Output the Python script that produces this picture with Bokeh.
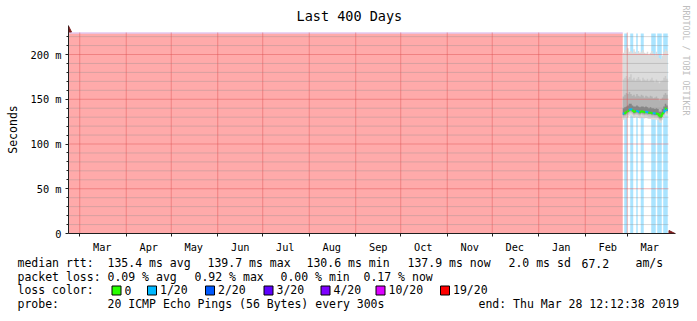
import pandas as pd
from bokeh.plotting import figure
from bokeh.layouts import column
from bokeh.models import FixedTicker, Arrow, NormalHead, Title
from bokeh.core.properties import value
from bokeh.embed import file_html
from bokeh.resources import INLINE

# ---------------- data ----------------
chart_title = "Last 400 Days"
credit_text = "RRDTOOL / TOBI OETIKER"
y_axis_title = "Seconds"
end_stamp = "2019-03-28 12:12:38"
span_days = 400

month_labels = ["Mar", "Apr", "May", "Jun", "Jul", "Aug", "Sep", "Oct", "Nov", "Dec", "Jan", "Feb", "Mar"]
month_starts = ["2018-03-01", "2018-04-01", "2018-05-01", "2018-06-01", "2018-07-01", "2018-08-01",
                "2018-09-01", "2018-10-01", "2018-11-01", "2018-12-01", "2019-01-01", "2019-02-01",
                "2019-03-01"]

y_ticks = [0, 50, 100, 150, 200]
y_tick_labels = ["0", "50 m", "100 m", "150 m", "200 m"]
y_minor_ticks = [10, 20, 30, 40, 60, 70, 80, 90, 110, 120, 130, 140, 160, 170, 180, 190, 210, 220]
y_graph_max = 223.5   # ms, top of graph area
y_canvas_max = 224.6  # ms, top row of graph canvas

no_data_until = "2019-02-26"
first_sample_day = "2019-02-26"

# per-day values (ms), 2019-02-26 .. 2019-03-27
rtt_median = [134, 134.5, 136, 137, 138.5, 139, 137.5, 136, 136.5, 137, 136, 135.5, 136.5, 136, 135.5,
              136, 135.5, 135, 135, 134.5, 134.5, 134, 134, 133.5, 131, 130.6, 134, 136, 139.7, 137.9]
rtt_min = [127, 127.5, 129, 130, 131.5, 132, 130.5, 129, 129.5, 130, 129, 128.5, 129.5, 129, 128.5,
           129, 128.5, 128, 128, 127.5, 127.5, 127, 127, 126.5, 124, 123.5, 127, 129, 132.5, 131]
rtt_p10 = [129.5, 130, 131.5, 132.5, 134, 134.5, 133, 131.5, 132, 132.5, 131.5, 131, 132, 131.5, 131,
           131.5, 131, 130.5, 130.5, 130, 130, 129.5, 129.5, 129, 126.5, 126, 129.5, 131.5, 135, 133.5]
rtt_p25 = [131, 131.5, 133, 134, 135.5, 136, 134.5, 133, 133.5, 134, 133, 132.5, 133.5, 133, 132.5,
           133, 132.5, 132, 132, 131.5, 131.5, 131, 131, 130.5, 128, 127.5, 131, 133, 136.5, 135]
rtt_p40 = [132.5, 133, 134.5, 135.5, 137, 137.5, 136, 134.5, 135, 135.5, 134.5, 134, 135, 134.5, 134,
           134.5, 134, 133.5, 133.5, 133, 133, 132.5, 132.5, 132, 129.5, 129, 132.5, 134.5, 138, 136.5]
rtt_p65 = [140, 141, 142, 143, 145, 145, 143, 142, 142, 143, 142, 141, 142, 142, 141,
           142, 141, 140, 141, 140, 140, 139, 140, 139, 136, 136, 139, 142, 145, 143]
rtt_p80 = [153, 155, 157, 156, 158, 156, 154, 155, 153, 156, 154, 153, 155, 154, 152,
           154, 153, 152, 154, 153, 151, 152, 153, 151, 149, 150, 152, 155, 157, 155]
rtt_p90 = [172, 174, 176, 173, 175, 178, 172, 174, 171, 173, 175, 172, 170, 174, 172,
           171, 173, 170, 172, 174, 171, 169, 172, 170, 168, 170, 171, 174, 176, 173]
rtt_max = [202, 205, 208, 207, 203, 204, 202, 206, 203, 201, 204, 202, 203, 205, 202,
           201, 203, 200, 202, 204, 201, 199, 203, 200, 196, 195, 199, 203, 206, 204]
loss_count = [0, 1, 1, 0, 0, 1, 1, 0, 0, 1, 0, 0, 1, 1, 0, 0, 0, 0, 0, 1, 1, 1, 0, 1, 1, 1, 0, 1, 1, 1]
median_loss = [1, 0, 0, 0, 1, 1, 0, 0, 0, 1, 1, 0, 0, 0, 0, 1, 1, 0, 0, 0, 1, 1, 0, 0, 0, 0, 0, 1, 0, 1]

rtt_stat_names = ["avg", "max", "min", "now"]
rtt_stat_values = [135.4, 139.7, 130.6, 137.9]
rtt_sd = 2.0
rtt_am_s = 67.2
loss_stat_values = [0.09, 0.92, 0.00, 0.17]
loss_legend_labels = ["0", "1/20", "2/20", "3/20", "4/20", "10/20", "19/20"]
loss_legend_colors = ["#26ff00", "#00b8ff", "#0059ff", "#5e00ff", "#7e00ff", "#dd00ff", "#ff0000"]
probe_text = "20 ICMP Echo Pings (56 Bytes) every 300s"
end_text = "end: Thu Mar 28 12:12:38 2019"

# ---------------- helpers ----------------
end_time = pd.Timestamp(end_stamp)
start_time = end_time - pd.Timedelta(days=span_days)


def off(d):
    return round((pd.Timestamp(d) - start_time).total_seconds() / 86400.0, 4)


MONO = "DejaVu Sans Mono"
W = 697
MAIN_H = 255
LEG_H = 321 - MAIN_H
F_LEFT, F_RIGHT = 68, 675          # plot frame (includes room for the axis arrows)
F_TOP, F_BOTTOM = 25, 233
PX_PER_DAY = 1.5
PX_PER_MS = 201 / y_canvas_max
x_end = (F_RIGHT - F_LEFT) / PX_PER_DAY
y_end = (F_BOTTOM - F_TOP) / PX_PER_MS

day_starts = [off(d) for d in pd.date_range(first_sample_day, periods=len(rtt_median), freq="D")]
day_ends = [s + 1 for s in day_starts]


def step_xy(vals):
    xs, ys = [], []
    for s, e, v in zip(day_starts, day_ends, vals):
        xs += [s, e]
        ys += [v, v]
    return xs, ys


# ---------------- main figure ----------------
p = figure(width=W, height=MAIN_H, output_backend="svg", toolbar_location=None,
           x_range=(0, x_end), y_range=(0, y_end),
           min_border_left=F_LEFT, min_border_right=W - F_RIGHT,
           min_border_top=F_TOP, min_border_bottom=MAIN_H - F_BOTTOM)
p.outline_line_color = None
p.background_fill_color = "white"
p.border_fill_color = "white"
p.xgrid.visible = False
p.ygrid.visible = False

# unknown / full loss background
p.quad(left=0, right=off(no_data_until), bottom=0, top=y_graph_max,
       fill_color="#FFAAAA", line_color=None)
p.quad(left=0, right=off(no_data_until), bottom=y_graph_max, top=y_canvas_max,
       fill_color="#D5AEEA", line_color=None)

# loss stripes
lx, ly = step_xy([y_graph_max if c > 0 else 0 for c in loss_count])
p.varea(x=lx, y1=[0] * len(lx), y2=ly, fill_color="#AAE4FF")

# smoke layers
layers = [(rtt_min, rtt_max, "#DCDCDC"), (rtt_p10, rtt_p90, "#CACACA"),
          (rtt_p25, rtt_p80, "#B2B2B2"), (rtt_p40, rtt_p65, "#858585")]
for lo, hi, col in layers:
    sx, slo = step_xy(lo)
    _, shi = step_xy(hi)
    p.varea(x=sx, y1=slo, y2=shi, fill_color=col)

# median line, coloured by loss
mxs, mys, mcol = [], [], []
for i, (s, e, v) in enumerate(zip(day_starts, day_ends, rtt_median)):
    nxt = rtt_median[i + 1] if i + 1 < len(rtt_median) else v
    mxs.append([s, e, e])
    mys.append([v, v, nxt])
    mcol.append(loss_legend_colors[1] if median_loss[i] else loss_legend_colors[0])
p.multi_line(xs=mxs, ys=mys, line_color=mcol, line_width=2)

# grid lines (drawn over the graph, limited to the graph area)
start_pos = [off(m) for m in month_starts]
p.segment(x0=0, x1=span_days, y0=y_minor_ticks, y1=y_minor_ticks,
          line_color="#8F8F8F", line_alpha=0.35, line_width=1)
p.segment(x0=0, x1=span_days, y0=y_ticks[1:], y1=y_ticks[1:],
          line_color="#DE4F4F", line_alpha=0.45, line_width=1)
p.segment(x0=start_pos, x1=start_pos, y0=0, y1=y_canvas_max,
          line_color="#DE4F4F", line_alpha=0.45, line_width=1)

# ---------------- axes ----------------
label_pos = [round(off(m) + 15, 4) for m in month_starts]
p.xaxis.ticker = FixedTicker(ticks=label_pos, minor_ticks=start_pos)
p.xaxis.major_label_overrides = {pos: name for pos, name in zip(label_pos, month_labels)}
p.xaxis.major_tick_out = 0
p.xaxis.major_tick_in = 0
p.xaxis.minor_tick_out = 3
p.xaxis.minor_tick_in = 0
p.xaxis.major_label_standoff = 4

p.yaxis.ticker = FixedTicker(ticks=y_ticks, minor_ticks=y_minor_ticks)
p.yaxis.major_label_overrides = {t: lab for t, lab in zip(y_ticks, y_tick_labels)}
p.yaxis.major_tick_out = 3
p.yaxis.major_tick_in = 0
p.yaxis.minor_tick_out = 2
p.yaxis.minor_tick_in = 0
p.yaxis.major_label_standoff = 4
p.yaxis.axis_label = y_axis_title
p.yaxis.axis_label_text_font = MONO
p.yaxis.axis_label_text_font_size = "11.5px"
p.yaxis.axis_label_text_font_style = "normal"
p.yaxis.axis_label_text_color = "black"
p.yaxis.axis_label_standoff = 8

for ax in (p.xaxis[0], p.yaxis[0]):
    ax.axis_line_color = "#1F1F1F"
    ax.major_tick_line_color = "#1F1F1F"
    ax.minor_tick_line_color = "#1F1F1F"
    ax.major_label_text_font = MONO
    ax.major_label_text_font_size = "10.3px"
    ax.major_label_text_color = "black"

# axis arrows
arrow_col = "#7F1F1F"
p.add_layout(Arrow(end=NormalHead(size=6, fill_color=arrow_col, line_color=arrow_col),
                   x_start=0, y_start=y_canvas_max, x_end=0, y_end=(F_BOTTOM - 25.5) / PX_PER_MS,
                   line_color="#1F1F1F", line_width=1))
p.add_layout(Arrow(end=NormalHead(size=6, fill_color=arrow_col, line_color=arrow_col),
                   x_start=span_days, y_start=0, x_end=(674.5 - F_LEFT) / PX_PER_DAY, y_end=0,
                   line_color="#1F1F1F", line_width=1))

# title and credit
p.title = Title(text=chart_title, align="left", offset=296 - F_LEFT, standoff=3,
                text_font=MONO, text_font_size="13.5px", text_font_style="normal",
                text_color="black")
p.add_layout(Title(text=credit_text, align="left", offset=-20, standoff=8,
                   vertical_align="middle", text_font=MONO, text_font_size="8.3px",
                   text_font_style="normal", text_color="#BEBEBE"), "right")

# ---------------- legend strip ----------------
leg = figure(width=W, height=LEG_H, output_backend="svg", toolbar_location=None,
             x_range=(0, W), y_range=(321, MAIN_H), x_axis_type=None, y_axis_type=None,
             min_border_left=0, min_border_right=0, min_border_top=0, min_border_bottom=0)
leg.outline_line_color = None
leg.background_fill_color = "white"
leg.border_fill_color = "white"
leg.grid.visible = False
for fig in (p, leg):
    try:
        fig.frame_align = False
    except Exception:
        pass

items_t, items_x, items_y = [], [], []
ROW_Y = [262.9, 276.4, 289.9, 303.4]   # vertical centres of the four legend rows


def add_item(txt, px, row):
    items_t.append(txt)
    items_x.append(px)
    items_y.append(ROW_Y[row])


add_item("median rtt:", 17, 0)
for v, n, x in zip(rtt_stat_values, rtt_stat_names, [107, 207, 306, 407]):
    add_item(f"{v:.1f} ms {n}", x, 0)
add_item(f"{rtt_sd:.1f} ms sd", 508, 0)
add_item(f"{rtt_am_s:.1f}", 581, 0)
add_item("am/s", 635, 0)

add_item("packet loss:", 17, 1)
for v, n, x in zip(loss_stat_values, rtt_stat_names, [107, 194, 280, 363]):
    add_item(f"{v:.2f} % {n}", x, 1)

add_item("loss color:", 17, 2)
loss_text_x = [124, 159.5, 217.5, 276, 333, 388, 452.5]
for lab, x in zip(loss_legend_labels, loss_text_x):
    add_item(lab, x, 2)
leg.quad(left=[x - 12.5 for x in loss_text_x], right=[x - 3.5 for x in loss_text_x],
         top=[285.5] * len(loss_text_x), bottom=[294.5] * len(loss_text_x),
         fill_color=loss_legend_colors, line_color="black", line_width=1)

add_item("probe:", 17, 3)
add_item(probe_text, 107, 3)
add_item(end_text, 478, 3)

leg.text(x=items_x, y=items_y, text=items_t, text_font=value(MONO), text_font_size="11.5px",
         text_align="left", text_baseline="middle", text_color="black")

layout = column(p, leg, spacing=0)
open("out.html", "w").write(file_html(layout, INLINE))
